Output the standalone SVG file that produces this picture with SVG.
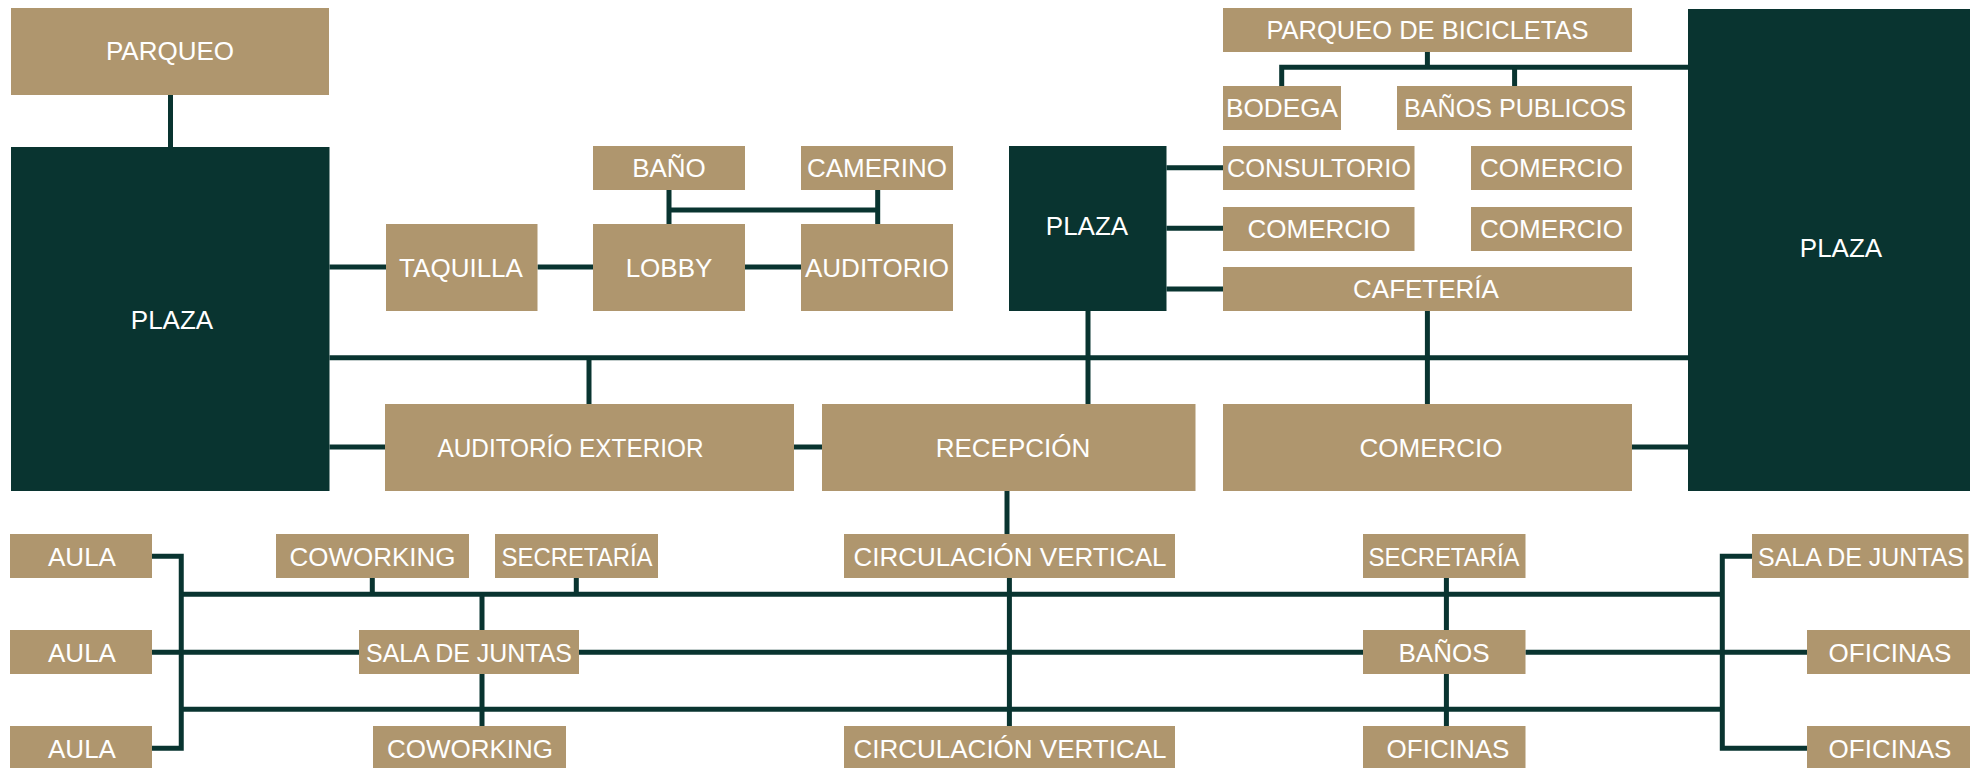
<svg xmlns="http://www.w3.org/2000/svg" width="1977" height="768" viewBox="0 0 1977 768">
<style>
.n{fill:#AF966E}
.p{fill:#093430}
.t{font-family:"Liberation Sans",Arial,sans-serif;font-size:26px;fill:#FFFFFF;text-anchor:middle}
.c{fill:none;stroke:#093430;stroke-width:5}
</style>
<rect width="1977" height="768" fill="#FFFFFF"/>
<g id="connectors" class="c">
<path d="M170.5 95V147"/>
<path d="M329.5 267H386"/>
<path d="M537.5 267H593"/>
<path d="M744.6 267H801"/>
<path d="M669 190V224M877.7 190V224M669 210H877.7"/>
<path d="M329.5 357.7H1688"/>
<path d="M589 357.7V404"/>
<path d="M329.5 447H385"/>
<path d="M793.75 447H822"/>
<path d="M1088 310.7V404"/>
<path d="M1166.5 167.7H1223M1166.5 228.3H1223M1166.5 289H1223"/>
<path d="M1427.4 310.7V404"/>
<path d="M1631.6 447H1688"/>
<path d="M1427.4 51.7V67.3M1281.7 86V67.3H1688M1514.6 67.3V86"/>
<path d="M1007 490.7V534"/>
<path d="M1009.4 577.7V726"/>
<path d="M151.8 556.3H181.25V748.3H151.8"/>
<path d="M181 594.3H1722.3"/>
<path d="M181 709.3H1722.3"/>
<path d="M151.8 652.3H359M579 652.3H1363M1525.4 652.3H1807"/>
<path d="M372.3 577.7V594.3M576.3 577.7V594.3"/>
<path d="M482 594.3V630M482 673.7V726"/>
<path d="M1446.4 577.7V630M1446.4 673.7V726"/>
<path d="M1752 556.3H1722.3V748.3H1807"/>
</g>
<g id="parqueo"><rect class="n" x="11" y="8" width="318" height="87"/><text class="t" x="170" y="60">PARQUEO</text></g>
<g id="plaza-left"><rect class="p" x="11" y="147" width="318.5" height="344"/><text class="t" x="172" y="329">PLAZA</text></g>
<g id="taquilla"><rect class="n" x="386" y="224" width="151.5" height="87"/><text class="t" x="461" y="277">TAQUILLA</text></g>
<g id="lobby"><rect class="n" x="593" y="224" width="152" height="87"/><text class="t" x="669" y="277">LOBBY</text></g>
<g id="bano"><rect class="n" x="593" y="146" width="152" height="44"/><text class="t" x="669" y="177">BAÑO</text></g>
<g id="camerino"><rect class="n" x="801" y="146" width="152" height="44"/><text class="t" x="877" y="177">CAMERINO</text></g>
<g id="auditorio"><rect class="n" x="801" y="224" width="152" height="87"/><text class="t" x="877" y="277">AUDITORIO</text></g>
<g id="auditorio-exterior"><rect class="n" x="385" y="404" width="409" height="87"/><text class="t" x="570.5" y="457" textLength="266" lengthAdjust="spacingAndGlyphs">AUDITORÍO EXTERIOR</text></g>
<g id="plaza-mid"><rect class="p" x="1009" y="146" width="157.5" height="165"/><text class="t" x="1087" y="235">PLAZA</text></g>
<g id="recepcion"><rect class="n" x="822" y="404" width="373.5" height="87"/><text class="t" x="1013" y="457">RECEPCIÓN</text></g>
<g id="parqueo-bicicletas"><rect class="n" x="1223" y="8" width="409" height="44"/><text class="t" x="1427.5" y="39" textLength="322" lengthAdjust="spacingAndGlyphs">PARQUEO DE BICICLETAS</text></g>
<g id="bodega"><rect class="n" x="1223" y="86" width="118" height="44"/><text class="t" x="1282" y="117" textLength="112" lengthAdjust="spacingAndGlyphs">BODEGA</text></g>
<g id="banos-publicos"><rect class="n" x="1397" y="86" width="235" height="44"/><text class="t" x="1515" y="117" textLength="222" lengthAdjust="spacingAndGlyphs">BAÑOS PUBLICOS</text></g>
<g id="consultorio"><rect class="n" x="1223" y="146" width="191.5" height="44"/><text class="t" x="1319" y="177" textLength="184" lengthAdjust="spacingAndGlyphs">CONSULTORIO</text></g>
<g id="comercio-1"><rect class="n" x="1471" y="146" width="161" height="44"/><text class="t" x="1551.5" y="177">COMERCIO</text></g>
<g id="comercio-2"><rect class="n" x="1223" y="207" width="191.5" height="44"/><text class="t" x="1319" y="238">COMERCIO</text></g>
<g id="comercio-3"><rect class="n" x="1471" y="207" width="161" height="44"/><text class="t" x="1551.5" y="238">COMERCIO</text></g>
<g id="cafeteria"><rect class="n" x="1223" y="267" width="409" height="44"/><text class="t" x="1426" y="298">CAFETERÍA</text></g>
<g id="comercio-big"><rect class="n" x="1223" y="404" width="409" height="87"/><text class="t" x="1431" y="457">COMERCIO</text></g>
<g id="plaza-right"><rect class="p" x="1688" y="9" width="282" height="482"/><text class="t" x="1841" y="257">PLAZA</text></g>
<g id="aula-1"><rect class="n" x="10" y="534" width="142" height="44"/><text class="t" x="82" y="566">AULA</text></g>
<g id="aula-2"><rect class="n" x="10" y="630" width="142" height="44"/><text class="t" x="82" y="662">AULA</text></g>
<g id="aula-3"><rect class="n" x="10" y="726" width="142" height="44"/><text class="t" x="82" y="758">AULA</text></g>
<g id="coworking-1"><rect class="n" x="276" y="534" width="193" height="44"/><text class="t" x="372.5" y="566">COWORKING</text></g>
<g id="secretaria-1"><rect class="n" x="495" y="534" width="163" height="44"/><text class="t" x="577" y="566" textLength="151" lengthAdjust="spacingAndGlyphs">SECRETARÍA</text></g>
<g id="sala-juntas-1"><rect class="n" x="359" y="630" width="220" height="44"/><text class="t" x="469" y="662" textLength="206" lengthAdjust="spacingAndGlyphs">SALA DE JUNTAS</text></g>
<g id="coworking-2"><rect class="n" x="373" y="726" width="193" height="44"/><text class="t" x="470" y="758">COWORKING</text></g>
<g id="circulacion-1"><rect class="n" x="844" y="534" width="331" height="44"/><text class="t" x="1010" y="566">CIRCULACIÓN VERTICAL</text></g>
<g id="circulacion-2"><rect class="n" x="844" y="726" width="331" height="44"/><text class="t" x="1010" y="758">CIRCULACIÓN VERTICAL</text></g>
<g id="secretaria-2"><rect class="n" x="1363" y="534" width="162.5" height="44"/><text class="t" x="1444" y="566" textLength="151" lengthAdjust="spacingAndGlyphs">SECRETARÍA</text></g>
<g id="banos"><rect class="n" x="1363" y="630" width="162.5" height="44"/><text class="t" x="1444" y="662">BAÑOS</text></g>
<g id="oficinas-1"><rect class="n" x="1363" y="726" width="162.5" height="44"/><text class="t" x="1448" y="758">OFICINAS</text></g>
<g id="sala-juntas-2"><rect class="n" x="1752" y="534" width="216.5" height="44"/><text class="t" x="1861" y="566" textLength="206" lengthAdjust="spacingAndGlyphs">SALA DE JUNTAS</text></g>
<g id="oficinas-2"><rect class="n" x="1807" y="630" width="163" height="44"/><text class="t" x="1890" y="662">OFICINAS</text></g>
<g id="oficinas-3"><rect class="n" x="1807" y="726" width="163" height="44"/><text class="t" x="1890" y="758">OFICINAS</text></g>
</svg>
